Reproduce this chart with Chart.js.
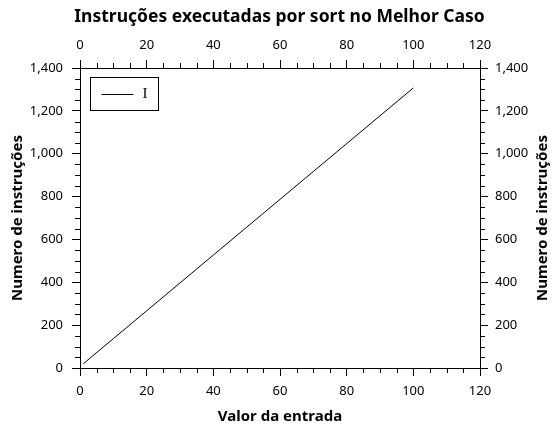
<!DOCTYPE html>
<html>
<head>
<meta charset="utf-8">
<script src="https://cdn.jsdelivr.net/npm/chart.js@4"></script>
<style>
html,body{margin:0;padding:0;background:#fff;}
#wrap{width:559px;height:437px;position:relative;}
</style>
</head>
<body>
<div id="wrap"><canvas id="c"></canvas></div>
<script>
const titleText = "Instruções executadas por sort no Melhor Caso";
const xTitle = "Valor da entrada";
const yTitle = "Numero de instruções";
const seriesLabel = "I";
const xValues = [1, 10, 20, 30, 40, 50, 60, 70, 80, 90, 100];
const yValues = [20, 137, 267, 397, 527, 657, 787, 917, 1047, 1177, 1307];
const xRange = [0, 120];
const yRange = [0, 1400];
const xMajor = 20, xMinor = 5;
const yMajor = 200, yMinor = 50;

const tickFont = {family: "'Noto Sans'", size: 13};
const titleFont = {family: "'Noto Sans'", size: 15, weight: 'bold'};

function axis(pos, range, step, showTitle, titleStr, pad, titleColor, titlePad, fit) {
  return {
    type: 'linear', position: pos, min: range[0], max: range[1],
    grid: {display: true, drawOnChartArea: false, drawTicks: true, tickLength: 8, tickColor: '#000', color: '#000', lineWidth: 1},
    border: {display: true, color: '#000', width: 1},
    ticks: {stepSize: step, color: '#000', font: tickFont, padding: pad, maxRotation: 0, autoSkip: false},
    title: {display: showTitle, text: titleStr, color: titleColor || '#000', font: titleFont, padding: titlePad || {top: 4, bottom: 4}},
    afterFit: fit
  };
}

const minorTicks = {
  id: 'minorTicks',
  afterDraw(chart) {
    const ctx = chart.ctx;
    ctx.save();
    ctx.strokeStyle = '#000';
    ctx.lineWidth = 1;
    const len = 5;
    const defs = [['x', xMinor, xMajor], ['x2', xMinor, xMajor], ['y', yMinor, yMajor], ['y2', yMinor, yMajor]];
    defs.forEach(([id, mn, mj]) => {
      const s = chart.scales[id];
      for (let v = s.min; v <= s.max + 1e-9; v += mn) {
        if (Math.abs(v % mj) < 1e-9) continue;
        const p = Math.round(s.getPixelForValue(v)) + 0.5;
        ctx.beginPath();
        if (id === 'x') { ctx.moveTo(p, s.top); ctx.lineTo(p, s.top + len); }
        else if (id === 'x2') { ctx.moveTo(p, s.bottom); ctx.lineTo(p, s.bottom - len); }
        else if (id === 'y') { ctx.moveTo(s.right, p); ctx.lineTo(s.right - len, p); }
        else { ctx.moveTo(s.left, p); ctx.lineTo(s.left + len, p); }
        ctx.stroke();
      }
    });
    // right axis title, reading bottom-to-top like the left one
    const s2 = chart.scales.y2;
    const a = chart.chartArea;
    ctx.fillStyle = '#000';
    ctx.font = "bold 15px 'Noto Sans'";
    ctx.textAlign = 'center';
    ctx.textBaseline = 'middle';
    ctx.translate(s2.right - 16, (a.top + a.bottom) / 2);
    ctx.rotate(-Math.PI / 2);
    ctx.fillText(yTitle, 0, 0);
    ctx.setTransform(1, 0, 0, 1, 0, 0);
    // legend box
    const bx = Math.round(a.left) + 10.5, by = Math.round(a.top) + 9.5, bw = 68, bh = 33;
    ctx.strokeStyle = '#000';
    ctx.strokeRect(bx, by, bw, bh);
    ctx.beginPath();
    ctx.moveTo(bx + 11, by + 17); ctx.lineTo(bx + 43, by + 17);
    ctx.stroke();
    ctx.font = "15px 'Liberation Serif'";
    ctx.textAlign = 'left';
    ctx.fillText(chart.data.datasets[0].label, bx + 52, by + 17);
    ctx.restore();
  }
};

new Chart(document.getElementById('c'), {
  type: 'line',
  data: {
    datasets: [{
      label: seriesLabel,
      data: xValues.map((x, i) => ({x: x, y: yValues[i]})),
      borderColor: '#000', borderWidth: 1, pointRadius: 0, fill: false, tension: 0,
      xAxisID: 'x', yAxisID: 'y'
    }]
  },
  options: {
    responsive: true, maintainAspectRatio: false, animation: false,
    layout: {padding: 0},
    plugins: {
      legend: {display: false},
      tooltip: {enabled: false},
      title: {display: true, text: titleText, color: '#000', font: {family: "'Noto Sans'", size: 17.5, weight: 'bold'}, padding: {top: 7, bottom: 2}}
    },
    scales: {
      x: axis('bottom', xRange, xMajor, true, xTitle, 7, null, {top: 4, bottom: 11}, s => { s.height = 69; }),
      x2: axis('top', xRange, xMajor, false, '', 7, null, null, s => { s.height = 38; }),
      y: axis('left', yRange, yMajor, true, yTitle, 9, null, {top: 9, bottom: 4}, s => { s.width = 80; }),
      y2: axis('right', yRange, yMajor, false, yTitle, 7, null, null, s => { s.width = 79; })
    }
  },
  plugins: [minorTicks]
});
</script>
</body>
</html>
